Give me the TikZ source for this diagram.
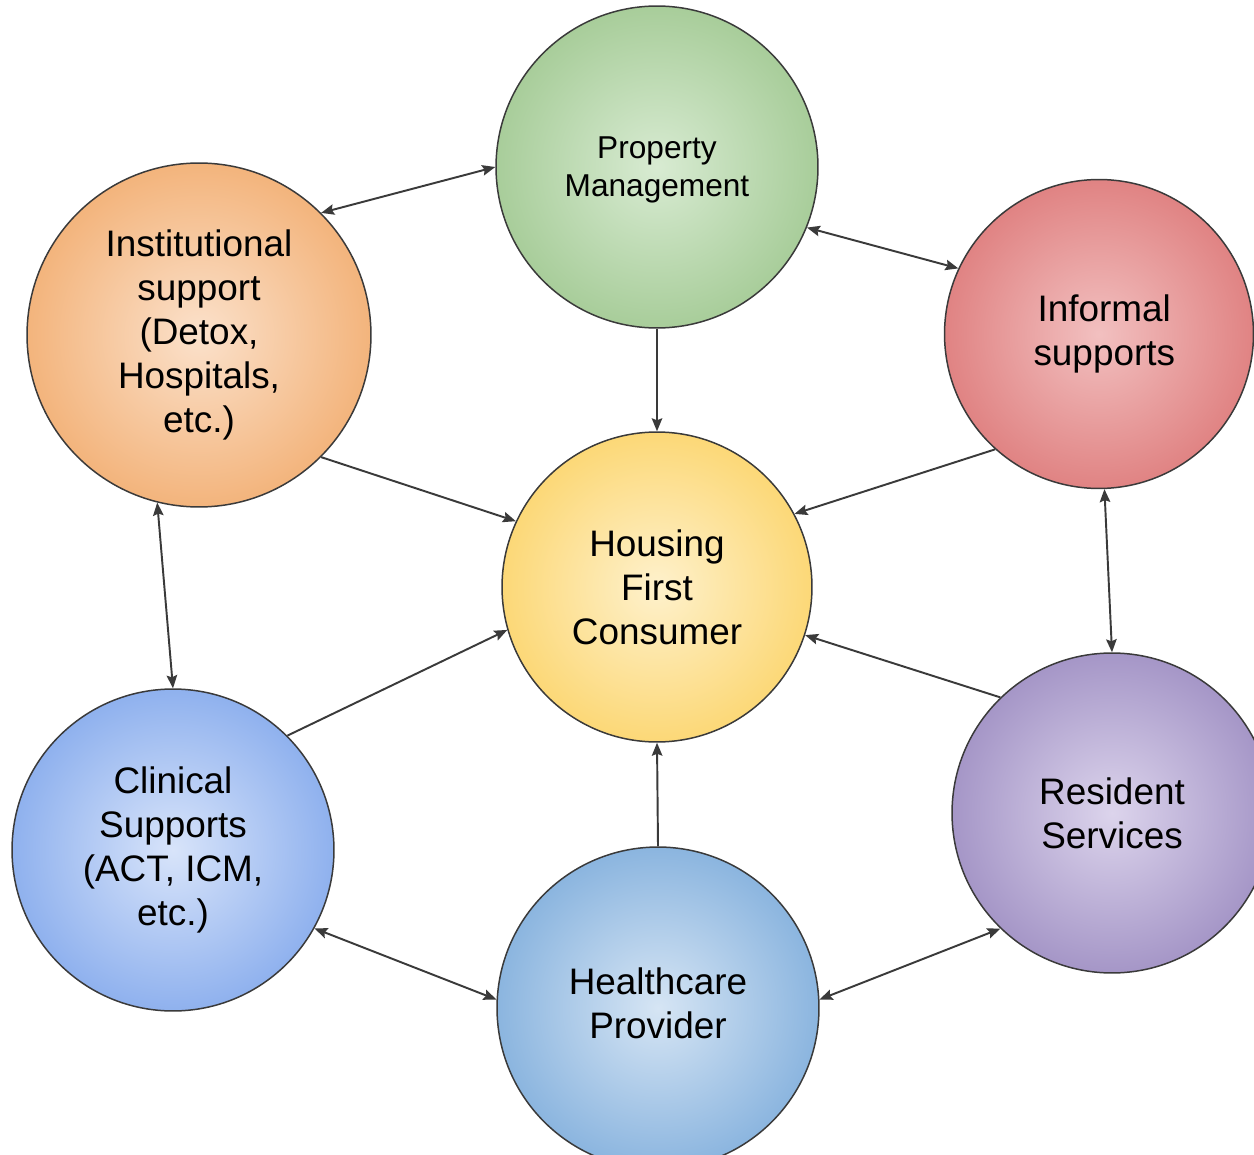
\documentclass[tikz,border=0pt]{standalone}
\usepackage{fontspec}
\setmainfont{Liberation Sans}
\usetikzlibrary{arrows.meta,positioning}
\definecolor{edgegrey}{HTML}{3A3A3A}
\definecolor{propin}{HTML}{D8EBD2}\definecolor{propout}{HTML}{A8CD9A}
\definecolor{instin}{HTML}{FBE1CB}\definecolor{instout}{HTML}{F3B47C}
\definecolor{infoin}{HTML}{F2C0C0}\definecolor{infoout}{HTML}{E08383}
\definecolor{homein}{HTML}{FEF1CC}\definecolor{homeout}{HTML}{FCD877}
\definecolor{clinin}{HTML}{D8E4FA}\definecolor{clinout}{HTML}{8FB1EE}
\definecolor{carein}{HTML}{D6E5F4}\definecolor{careout}{HTML}{8BB5DF}
\definecolor{resiin}{HTML}{DCD4EC}\definecolor{resiout}{HTML}{A596C7}

\begin{document}
\begin{tikzpicture}[x=0.02cm,y=-0.02cm]

\tikzset{bubble/.style 2 args={shape=circle,draw=edgegrey,line width=0.85pt,inner sep=0pt,align=center,
  font=\fontsize{21}{25}\selectfont,inner color=#1,outer color=#2},
link/.style={draw=edgegrey,line width=1.1pt,{Stealth[length=2.6mm,width=2.1mm,inset=0.4mm]}-{Stealth[length=2.6mm,width=2.1mm,inset=0.4mm]}},
feed/.style={draw=edgegrey,line width=1.1pt,-{Stealth[length=2.6mm,width=2.1mm,inset=0.4mm]}}}

\useasboundingbox (0,0) rectangle (1254,1155);
\clip (0,0) rectangle (1254,1155);
\fill[white] (0,0) rectangle (1254,1155);

% Circles
\node[bubble={propin}{propout},minimum size=6.44cm,font=\fontsize{18}{21.6}\selectfont,text depth=-4pt] (prop) at (657,167) {Property\\Management};
\node[bubble={instin}{instout},minimum size=6.88cm] (inst) at (199,335) {Institutional\\support\\(Detox,\\Hospitals,\\etc.)};
\node[bubble={infoin}{infoout},minimum size=6.18cm] (info) at (1099,334) {\hspace*{6pt}Informal\\\hspace*{6pt}supports};
\node[bubble={homein}{homeout},minimum size=6.2cm] (home) at (657,587) {Housing\\First\\Consumer};
\node[bubble={clinin}{clinout},minimum size=6.44cm] (clin) at (173,850) {Clinical\\Supports\\(ACT, ICM,\\etc.)};
\node[bubble={carein}{careout},minimum size=6.44cm] (care) at (658,1008) {Healthcare\\Provider\\[-19pt]};
\node[bubble={resiin}{resiout},minimum size=6.4cm] (resi) at (1112,813) {Resident\\Services};

% Edges
\draw[link] (inst.45) -- (prop.180);
\draw[link] (prop.-22) -- (info.155);
\draw[link] (inst.256) -- (clin.90);
\draw[link] (info.-88) -- (resi.90);
\draw[link] (clin.-29) -- (care.177);
\draw[link] (care.3) -- (resi.226);
\draw[feed] (prop.-90) -- (home.90);
\draw[feed] (inst.-45) -- (home.155);
\draw[feed] (info.-132) -- (home.28);
\draw[feed] (clin.45) -- (home.196);
\draw[feed] (resi.134) -- (home.-18);
\draw[feed] (care.90) -- (home.-90);

\end{tikzpicture}
\end{document}
